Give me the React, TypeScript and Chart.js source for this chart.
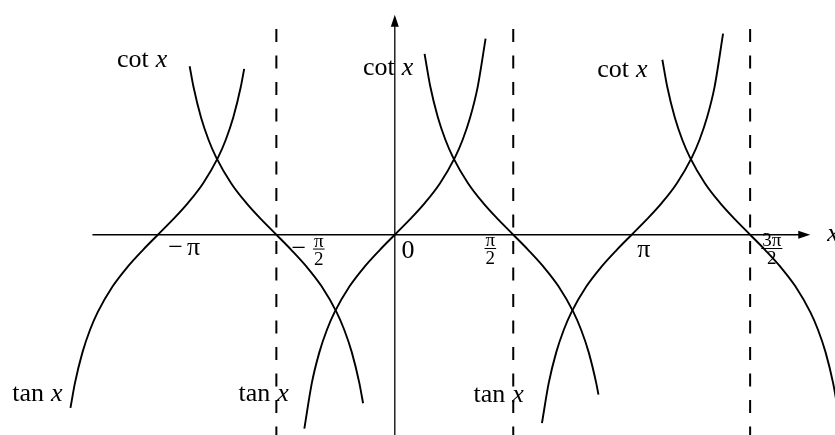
import React, { useEffect, useRef } from "react";
import { Chart, registerables } from "chart.js";

Chart.register(...registerables);

// ---- visible window (x in radians, y in function value) ----
const X_MIN = -5.236;
const X_MAX = 5.838;
const Y_MIN = -2.656;
const Y_MAX = 3.113;

// ---- tan x branches ----
const tanLeftX = [-4.3016, -4.2416, -4.1416, -4.0416, -3.9416, -3.7416, -3.5416, -3.3416, -3.1416, -2.9416, -2.7416, -2.5416, -2.3416, -2.2416, -2.1416, -2.0416, -1.9976];
const tanLeftY = [-2.296, -1.965, -1.557, -1.26, -1.03, -0.684, -0.423, -0.203, 0, 0.203, 0.423, 0.684, 1.03, 1.26, 1.557, 1.965, 2.199];

const tanMidX = [-1.2, -1.1, -1.0, -0.9, -0.8, -0.6, -0.4, -0.2, 0, 0.2, 0.4, 0.6, 0.8, 0.9, 1.0, 1.1, 1.204];
const tanMidY = [-2.572, -1.965, -1.557, -1.26, -1.03, -0.684, -0.423, -0.203, 0, 0.203, 0.423, 0.684, 1.03, 1.26, 1.557, 1.965, 2.602];

const tanRightX = [1.9516, 2.0416, 2.1416, 2.2416, 2.3416, 2.5416, 2.7416, 2.9416, 3.1416, 3.3416, 3.5416, 3.7416, 3.9416, 4.0416, 4.1416, 4.2416, 4.3536];
const tanRightY = [-2.498, -1.965, -1.557, -1.26, -1.03, -0.684, -0.423, -0.203, 0, 0.203, 0.423, 0.684, 1.03, 1.26, 1.557, 1.965, 2.666];

// ---- cot x branches ----
const cotLeftX = [-2.7208, -2.6708, -2.5708, -2.4708, -2.3708, -2.1708, -1.9708, -1.7708, -1.5708, -1.3708, -1.1708, -0.9708, -0.7708, -0.6708, -0.5708, -0.4708, -0.4208];
const cotLeftY = [2.235, 1.965, 1.557, 1.26, 1.03, 0.684, 0.423, 0.203, 0, -0.203, -0.423, -0.684, -1.03, -1.26, -1.557, -1.965, -2.235];

const cotMidX = [0.3948, 0.4708, 0.5708, 0.6708, 0.7708, 0.9708, 1.1708, 1.3708, 1.5708, 1.7708, 1.9708, 2.1708, 2.3708, 2.4708, 2.5708, 2.6708, 2.7008];
const cotMidY = [2.399, 1.965, 1.557, 1.26, 1.03, 0.684, 0.423, 0.203, 0, -0.203, -0.423, -0.684, -1.03, -1.26, -1.557, -1.965, -2.12];

const cotRightX = [3.5484, 3.6124, 3.7124, 3.8124, 3.9124, 4.1124, 4.3124, 4.5124, 4.7124, 4.9124, 5.1124, 5.3124, 5.5124, 5.6124, 5.7124, 5.8124, 5.8824];
const cotRightY = [2.321, 1.965, 1.557, 1.26, 1.03, 0.684, 0.423, 0.203, 0, -0.203, -0.423, -0.684, -1.03, -1.26, -1.557, -1.965, -2.359];

// ---- asymptotes (dashed) ----
const asymptoteX = [-1.5708, 1.5708, 4.7124];
const asymptoteTop = 2.728;

// ---- axes ----
const xAxisFrom = -4.01;
const xAxisTo = 5.51;
const yAxisTop = 2.918;

// ---- text labels ----
type Part = { text: string; italic?: boolean; gap?: number };
const textLabels: { x: number; y: number; size: number; parts: Part[] }[] = [
  { x: -3.684, y: 2.228, size: 26, parts: [{ text: "cot", gap: 7 }, { text: "x", italic: true }] },
  { x: -0.422, y: 2.112, size: 26, parts: [{ text: "cot", gap: 7 }, { text: "x", italic: true }] },
  { x: 2.686, y: 2.098, size: 26, parts: [{ text: "cot", gap: 7 }, { text: "x", italic: true }] },
  { x: -5.073, y: -2.207, size: 26, parts: [{ text: "tan", gap: 7 }, { text: "x", italic: true }] },
  { x: -2.072, y: -2.207, size: 26, parts: [{ text: "tan", gap: 7 }, { text: "x", italic: true }] },
  { x: 1.045, y: -2.224, size: 26, parts: [{ text: "tan", gap: 7 }, { text: "x", italic: true }] },
  { x: -3.004, y: -0.268, size: 26, parts: [{ text: "−", gap: 4 }, { text: "π" }] },
  { x: 0.09, y: -0.31, size: 26, parts: [{ text: "0" }] },
  { x: 3.216, y: -0.296, size: 26, parts: [{ text: "π" }] },
  { x: -1.371, y: -0.276, size: 26, parts: [{ text: "−" }] },
  { x: 5.736, y: -0.078, size: 26, parts: [{ text: "x", italic: true }] },
];
const fractionLabels: { x: number; y: number; num: string; den: string }[] = [
  { x: -1.008, y: -0.19, num: "π", den: "2" },
  { x: 1.267, y: -0.183, num: "π", den: "2" },
  { x: 5.0, y: -0.183, num: "3π", den: "2" },
];

const FONT = '"Liberation Serif", "DejaVu Serif", serif';

const toPts = (xs: number[], ys: number[]) => xs.map((x, i) => ({ x, y: ys[i] }));

const curve = (xs: number[], ys: number[]) => ({
  data: toPts(xs, ys),
  showLine: true,
  borderColor: "#000",
  borderWidth: 1.9,
  pointRadius: 0,
  cubicInterpolationMode: "monotone" as const,
});

const straight = (pts: { x: number; y: number }[], dash: number[] = [], width = 1.3) => ({
  data: pts,
  showLine: true,
  borderColor: "#000",
  borderWidth: width,
  borderDash: dash,
  pointRadius: 0,
  tension: 0,
});

const overlayPlugin = {
  id: "overlay",
  afterDatasetsDraw(chart: any) {
    const { ctx } = chart;
    const xs = chart.scales.x;
    const ys = chart.scales.y;
    const px = (v: number) => xs.getPixelForValue(v);
    const py = (v: number) => ys.getPixelForValue(v);
    ctx.save();
    ctx.fillStyle = "#000";
    ctx.strokeStyle = "#000";

    // arrow heads
    const ax = px(xAxisTo), ay = py(0);
    ctx.beginPath();
    ctx.moveTo(ax, ay);
    ctx.lineTo(ax - 12, ay - 4);
    ctx.lineTo(ax - 12, ay + 4);
    ctx.closePath();
    ctx.fill();
    const bx = px(0), by = py(yAxisTop);
    ctx.beginPath();
    ctx.moveTo(bx, by);
    ctx.lineTo(bx - 4, by + 12);
    ctx.lineTo(bx + 4, by + 12);
    ctx.closePath();
    ctx.fill();

    // text labels
    ctx.textAlign = "left";
    ctx.textBaseline = "alphabetic";
    for (const l of textLabels) {
      let x = px(l.x);
      const y = py(l.y);
      for (const p of l.parts) {
        ctx.font = `${p.italic ? "italic " : ""}${l.size}px ${FONT}`;
        ctx.fillText(p.text, x, y);
        x += ctx.measureText(p.text).width + (p.gap ?? 0);
      }
    }

    // fractions
    ctx.font = `19px ${FONT}`;
    ctx.textAlign = "center";
    for (const f of fractionLabels) {
      const cx = px(f.x);
      const cy = py(f.y);
      const w = Math.max(ctx.measureText(f.num).width, ctx.measureText(f.den).width) + 2;
      ctx.fillText(f.num, cx, cy - 2.5);
      ctx.fillText(f.den, cx, cy + 15.5);
      ctx.lineWidth = 1;
      ctx.beginPath();
      ctx.moveTo(cx - w / 2, cy);
      ctx.lineTo(cx + w / 2, cy);
      ctx.stroke();
    }
    ctx.restore();
  },
};

export default function App() {
  const ref = useRef<HTMLCanvasElement>(null);
  useEffect(() => {
    if (!ref.current) return;
    const datasets: any[] = [
      curve(tanLeftX, tanLeftY),
      curve(tanMidX, tanMidY),
      curve(tanRightX, tanRightY),
      curve(cotLeftX, cotLeftY),
      curve(cotMidX, cotMidY),
      curve(cotRightX, cotRightY),
      ...asymptoteX.map((a) =>
        straight([{ x: a, y: asymptoteTop }, { x: a, y: Y_MIN - 0.2 }], [13, 13.5], 2)
      ),
      straight([{ x: xAxisFrom, y: 0 }, { x: xAxisTo - 0.1, y: 0 }]),
      straight([{ x: 0, y: Y_MIN - 0.2 }, { x: 0, y: yAxisTop - 0.1 }]),
    ];
    const chart = new Chart(ref.current, {
      type: "scatter",
      data: { datasets },
      options: {
        animation: false,
        responsive: false,
        maintainAspectRatio: false,
        layout: { padding: 0 },
        plugins: { legend: { display: false }, tooltip: { enabled: false } },
        scales: {
          x: { type: "linear", min: X_MIN, max: X_MAX, display: false },
          y: { type: "linear", min: Y_MIN, max: Y_MAX, display: false },
        },
      },
      plugins: [overlayPlugin],
    });
    return () => chart.destroy();
  }, []);
  return (
    <div style={{ position: "absolute", left: 0, top: 0, width: 835, height: 435, background: "#fff" }}>
      <canvas ref={ref} width={835} height={435} style={{ display: "block", width: 835, height: 435 }} />
    </div>
  );
}
